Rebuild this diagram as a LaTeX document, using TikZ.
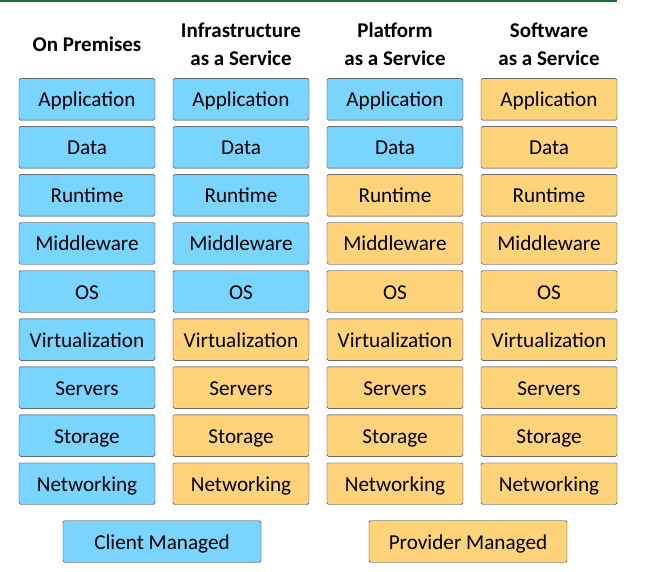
\documentclass[tikz,border=0pt]{standalone}
\usepackage{fontspec}
\setmainfont{Carlito}
\usetikzlibrary{positioning}

\definecolor{clientblue}{HTML}{79D5FE}
\definecolor{providerorange}{HTML}{FFD37A}
\definecolor{rulegreen}{HTML}{1E6B3A}

\begin{document}
\begin{tikzpicture}[x=1pt,y=-1pt,
    layer/.style={draw=black!85,thin,rounded corners=1.5pt,minimum width=136pt,minimum height=41.5pt,inner sep=0pt,text height=15pt,text depth=0pt,font=\fontsize{21.2}{24}\selectfont},
    client/.style={layer,fill=clientblue},
    provider/.style={layer,fill=providerorange},
    head/.style={align=center,font=\fontsize{21}{28}\selectfont\bfseries}]

    % page
    \useasboundingbox (0,0) rectangle (671,571);
    \coordinate (gl) at (0,0.75);
    \coordinate (gr) at (617,0.75);
    \draw[rulegreen,line width=1.5pt] (gl) -- (gr);

    % column heads
    \node[head] (h1) at (87,44) {On Premises};
    \node[head] (h2) at (241,44) {Infrastructure\\as a Service};
    \node[head] (h3) at (395,44) {Platform\\as a Service};
    \node[head] (h4) at (549,44) {Software\\as a Service};

    % stack layers (\n = number of client managed layers per column)
    \foreach \r/\l in {1/Application,2/Data,3/Runtime,4/Middleware,5/OS,6/Virtualization,7/Servers,8/Storage,9/Networking}{
        \foreach \c/\n in {1/9,2/5,3/2,4/0}{
            \ifnum\r>\n \def\sty{provider}\else \def\sty{client}\fi
            \node[\sty] (c\c r\r) at ({87+154*(\c-1)},{99.3+48.05*(\r-1)}) {\l};
        }
    }

    % legend
    \node[client,minimum width=198pt] (client) at (162,541.5) {Client Managed};
    \node[provider,minimum width=198pt] (provider) at (468,541.5) {Provider Managed};

\end{tikzpicture}
\end{document}
